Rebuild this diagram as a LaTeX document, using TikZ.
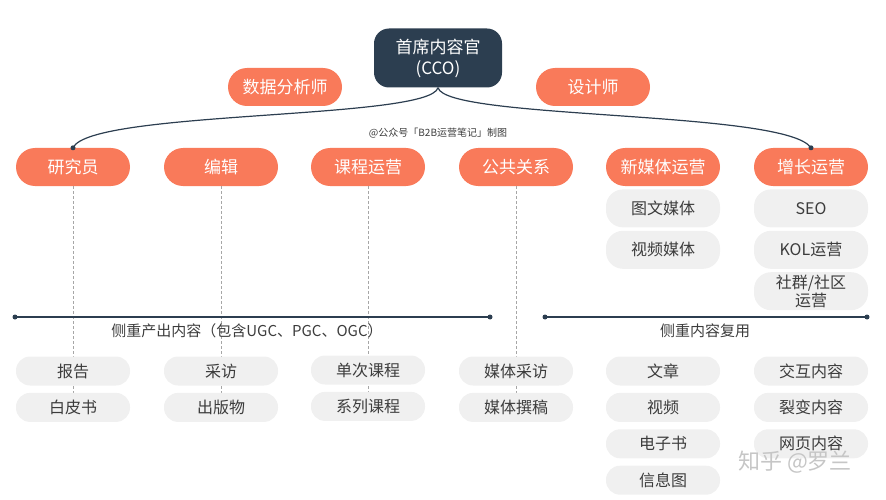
\documentclass[tikz,border=0pt]{standalone}
\usepackage{fontspec}
\setmainfont{Noto Sans CJK SC}
\usetikzlibrary{positioning}
\definecolor{coral}{RGB}{249,122,90}
\definecolor{navy}{RGB}{44,62,80}
\definecolor{pale}{RGB}{240,240,240}
\definecolor{ink}{RGB}{60,60,60}
\tikzset{
  role/.style={fill=coral, text=white, minimum width=114pt, minimum height=38pt,
    rounded corners=19pt, inner sep=0pt, font=\fontsize{17}{20}\selectfont},
  duty/.style={fill=pale, text=ink, minimum width=114pt, minimum height=38pt,
    rounded corners=17pt, inner sep=0pt, align=center, font=\fontsize{16}{18}\selectfont},
  output/.style={duty, minimum height=29pt, rounded corners=14pt},
  guide/.style={gray!70, dash pattern=on 3pt off 2pt, line width=0.5pt},
  axis/.style={navy, line width=1.2pt},
  tip/.style={circle, fill=navy, inner sep=0pt, minimum size=5pt}
}
\begin{document}
\begin{tikzpicture}[x=1pt, y=-1pt]
  \useasboundingbox (0,0) rectangle (886,500);

  % chief and staff
  \node [fill=navy, text=white, minimum width=128pt, minimum height=59pt,
    rounded corners=15pt, align=center, font=\fontsize{17}{21}\selectfont]
    (cco) at (438,58) {首席内容官\\(CCO)};
  \node [role] (analyst) at (285,87) {数据分析师};
  \node [role] (designer) at (593,87) {设计师};

  % team row
  \node [role] (researcher) at (73,167) {研究员};
  \node [role] (editor) at (221,167) {编辑};
  \node [role] (course ops) at (368,167) {课程运营};
  \node [role] (pr) at (516,167) {公共关系};
  \node [role] (new media) at (663,167) {新媒体运营};
  \node [role] (growth) at (811,167) {增长运营};

  \node [font=\fontsize{10}{12}\selectfont, text=ink] (credit) at (438,133)
    {@公众号「B2B运营笔记」制图};

  % branches from the chief
  \draw [navy, line width=1.2pt]
    (cco.south) .. controls (430,120) and (90,110) .. (researcher.north);
  \draw [navy, line width=1.2pt]
    (cco.south) .. controls (446,120) and (786,110) .. (growth.north);
  \node [tip] at (researcher.north) {};
  \node [tip] at (growth.north) {};

  % channels of new media and growth
  \node [duty, below=3pt of new media] (graphic) {图文媒体};
  \node [duty, below=3pt of graphic] (video media) {视频媒体};
  \node [duty, below=3pt of growth] (seo) {SEO};
  \node [duty, below=3pt of seo] (kol) {KOL运营};
  \node [duty, below=3pt of kol, font=\fontsize{16}{18}\selectfont] (community) {社群/社区\\运营};

  % dashed guides behind the outputs
  \coordinate (researcher end) at (73,400);
  \coordinate (editor end) at (221,400);
  \coordinate (course end) at (368,400);
  \coordinate (pr end) at (516,400);
  \draw [guide] (researcher.south) -- (researcher end);
  \draw [guide] (editor.south) -- (editor end);
  \draw [guide] (course ops.south) -- (course end);
  \draw [guide] (pr.south) -- (pr end);

  % two axes
  \coordinate (make left) at (15,317);
  \coordinate (make right) at (490,317);
  \coordinate (reuse left) at (545,317);
  \coordinate (reuse right) at (867,317);
  \draw [axis] (make left) -- (make right);
  \draw [axis] (reuse left) -- (reuse right);
  \foreach \p in {make left, make right, reuse left, reuse right}
    \node [tip] at (\p) {};
  \node [text=ink, font=\fontsize{15}{17}\selectfont] (make label) at (247,331)
    {侧重产出内容（包含UGC、PGC、OGC）};
  \node [text=ink, font=\fontsize{15}{17}\selectfont] (reuse label) at (705,331)
    {侧重内容复用};

  % outputs
  \node [output] (report) at (73,371) {报告};
  \node [output, below=7pt of report] (white paper) {白皮书};
  \node [output] (interview) at (221,371) {采访};
  \node [output, below=7pt of interview] (publication) {出版物};
  \node [output] (single course) at (368,370) {单次课程};
  \node [output, below=7pt of single course] (course series) {系列课程};
  \node [output] (press interview) at (516,371) {媒体采访};
  \node [output, below=7pt of press interview] (press release) {媒体撰稿};
  \node [output] (article) at (663,371) {文章};
  \node [output, below=7pt of article] (video) {视频};
  \node [output, below=7pt of video] (ebook) {电子书};
  \node [output, below=7pt of ebook] (infographic) {信息图};
  \node [output] (interactive) at (811,371) {交互内容};
  \node [output, below=7pt of interactive] (viral) {裂变内容};
  \node [output, below=7pt of viral] (web) {网页内容};

  % watermark
  \node [text=gray!45, font=\fontsize{22}{24}\selectfont] (mark) at (795,462) {知乎 @罗兰};
\end{tikzpicture}
\end{document}
